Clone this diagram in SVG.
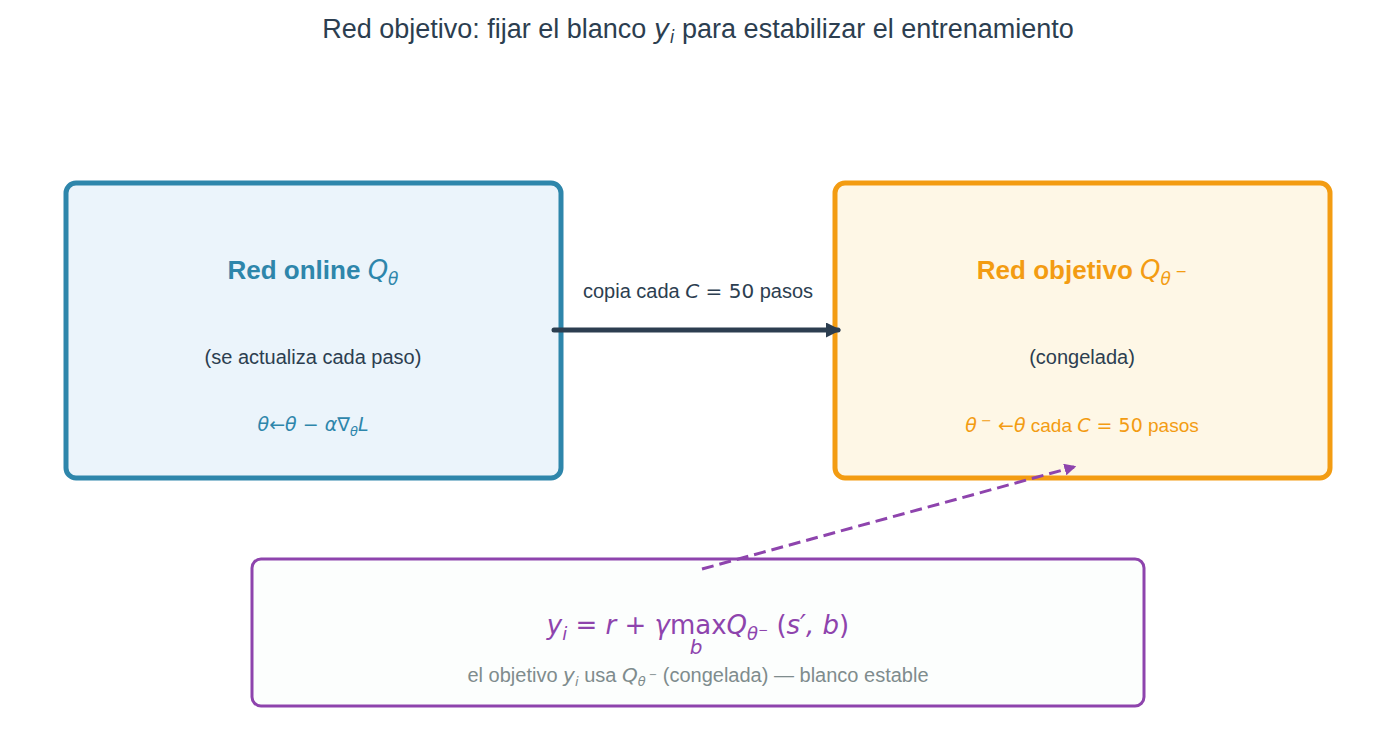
<svg xmlns="http://www.w3.org/2000/svg" width="1396" height="753" viewBox="0 0 1396 753">
<style>
text{font-family:"Liberation Sans",Arial,sans-serif;text-anchor:middle}
.m{font-family:"DejaVu Sans",sans-serif;font-style:italic}
.u{font-family:"DejaVu Sans",sans-serif;font-style:normal}
</style>
<defs>
<marker id="ah" viewBox="0 0 10 10" refX="8" refY="5" markerWidth="3" markerHeight="3" orient="auto"><path d="M0,0L10,5L0,10z" fill="#2c3e50"/></marker>
<marker id="ap" viewBox="0 0 10 10" refX="8" refY="5" markerWidth="4" markerHeight="4" orient="auto"><path d="M0,0L10,5L0,10z" fill="#8e44ad"/></marker>
</defs>
<rect width="1396" height="753" fill="#fff"/>
<text x="698" y="38" font-size="27" fill="#2c3e50">Red objetivo: fijar el blanco <tspan class="m">y</tspan><tspan class="m" font-size="17" dy="5">i</tspan><tspan dy="-5"> para estabilizar el entrenamiento</tspan></text>
<g id="online">
<rect x="66" y="183" width="495" height="295" rx="10" fill="#ebf4fb" stroke="#2e86ab" stroke-width="5"/>
<text x="313" y="279" font-size="26" font-weight="bold" fill="#2e86ab">Red online <tspan class="m" font-weight="normal">Q</tspan><tspan class="m" font-weight="normal" font-size="17" dy="6">θ</tspan></text>
<text x="313" y="364" font-size="20" fill="#2c3e50">(se actualiza cada paso)</text>
<text x="313" y="431" font-size="19" fill="#2e86ab" class="m">θ<tspan class="u">←</tspan>θ<tspan class="u"> − </tspan>α<tspan class="u">∇</tspan><tspan font-size="13" dy="5">θ</tspan><tspan dy="-5">L</tspan></text>
</g>
<g id="objetivo">
<rect x="835" y="183" width="495" height="295" rx="10" fill="#fef7e6" stroke="#f39c12" stroke-width="5"/>
<text x="1082" y="279" font-size="26" font-weight="bold" fill="#f39c12">Red objetivo <tspan class="m" font-weight="normal">Q</tspan><tspan class="m" font-weight="normal" font-size="17" dy="6">θ</tspan><tspan class="u" font-weight="normal" font-size="14" dy="-9"> −</tspan></text>
<text x="1082" y="364" font-size="20" fill="#2c3e50">(congelada)</text>
<text x="1082" y="432" font-size="19" fill="#f39c12"><tspan class="m">θ</tspan><tspan class="u" font-size="13" dy="-7"> −</tspan><tspan class="u" dy="7"> ←</tspan><tspan class="m">θ</tspan> cada <tspan class="m">C</tspan><tspan class="u"> = 50</tspan> pasos</text>
</g>
<g id="formula">
<rect x="252" y="559" width="892" height="147" rx="9" fill="#fcfefd" stroke="#8e44ad" stroke-width="3"/>
<text x="698" y="634" font-size="26" fill="#8e44ad" class="m">y<tspan font-size="18" dy="6">i</tspan><tspan dy="-6" class="u"> = </tspan>r<tspan class="u"> + </tspan>γ<tspan class="u">max</tspan>Q<tspan font-size="18" dy="6">θ</tspan><tspan class="u" font-size="12" dy="-6">−</tspan><tspan class="u"> (</tspan>s′, b<tspan class="u">)</tspan></text>
<text x="696" y="654" font-size="20" fill="#8e44ad" class="m">b</text>
<text x="698" y="682" font-size="20" fill="#7f8c8d">el objetivo <tspan class="m">y</tspan><tspan class="m" font-size="13" dy="4">i</tspan><tspan dy="-4"> usa </tspan><tspan class="m">Q</tspan><tspan class="m" font-size="13" dy="4">θ</tspan><tspan class="u" font-size="10" dy="-8"> −</tspan><tspan dy="4">  (congelada) — blanco estable</tspan></text>
</g>
<g id="connectors">
<line x1="554" y1="330" x2="838" y2="330" stroke="#2c3e50" stroke-width="5" stroke-linecap="round" marker-end="url(#ah)"/>
<text x="698" y="298" font-size="20" fill="#2c3e50">copia cada <tspan class="m">C</tspan><tspan class="u"> = 50</tspan> pasos</text>
<line x1="702" y1="569" x2="1074" y2="467" stroke="#8e44ad" stroke-width="3" stroke-dasharray="12,6" marker-end="url(#ap)"/>
</g>
</svg>
